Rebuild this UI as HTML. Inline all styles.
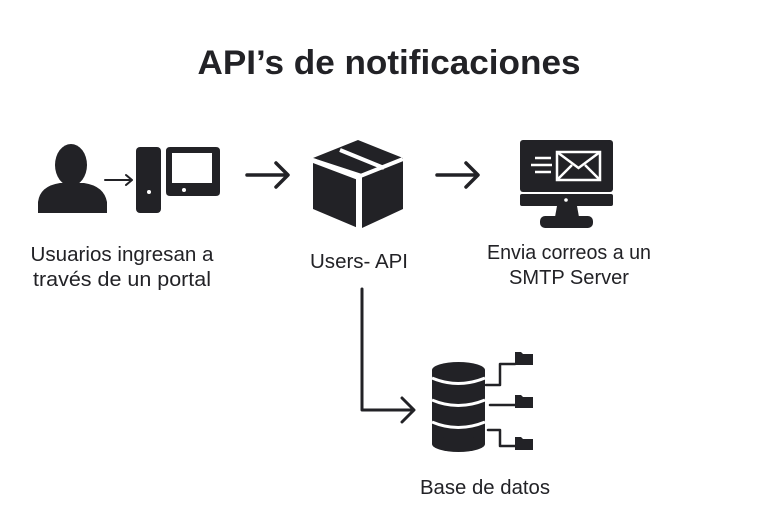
<!DOCTYPE html>
<html><head><meta charset="utf-8"><style>
html,body{margin:0;padding:0;background:#fff;}
svg{display:block;}
text{font-family:"Liberation Sans",sans-serif;fill:#222226;}
</style></head><body>
<svg width="768" height="512" viewBox="0 0 768 512" xmlns="http://www.w3.org/2000/svg">
<rect width="768" height="512" fill="#fff"/>
<text x="389" y="74" font-size="34" font-weight="bold" text-anchor="middle" textLength="383" lengthAdjust="spacingAndGlyphs">API’s de notificaciones</text>
<g fill="#222226" stroke="none">
 <ellipse cx="71" cy="165" rx="16" ry="21"/>
 <path d="M38 213 L38 202 Q40 186 60 183 L84 183 Q104 186 107 202 L107 213 Z"/>
 <rect x="136" y="147" width="25" height="66" rx="4"/>
 <path d="M170 147 H216 Q220 147 220 151 V192 Q220 196 216 196 H170 Q166 196 166 192 V151 Q166 147 170 147 Z M172 153 V183 H212 V153 Z" fill-rule="evenodd"/>
 <path d="M358 140 L403 158 L403 209 L362 228 L362 174 L313 158 Z"/>
 <path d="M313 163 L358 180 L358 228 L313 209 Z"/>
 <rect x="520" y="140" width="93" height="52" rx="3"/>
 <rect x="520" y="194" width="93" height="12" rx="2"/>
 <path d="M557 206 H577 L579 217 H555 Z"/>
 <rect x="540" y="216" width="53" height="12" rx="5"/>
 <rect x="432" y="370" width="53" height="74"/>
 <ellipse cx="458.5" cy="370" rx="26.5" ry="8"/>
 <ellipse cx="458.5" cy="444" rx="26.5" ry="8"/>
 <path d="M515 352 h6 l2 2 h10 v11 h-18 Z"/>
 <path d="M515 395 h6 l2 2 h10 v11 h-18 Z"/>
 <path d="M515 437 h6 l2 2 h10 v11 h-18 Z"/>
</g>
<g fill="#fff" stroke="none">
 <circle cx="149" cy="192" r="2"/>
 <circle cx="184" cy="190" r="2"/>
 <circle cx="566" cy="200" r="1.8"/>
</g>
<g stroke="#fff" stroke-width="4" fill="none">
 <path d="M313 160 L358 177 L403 159"/>
 <path d="M358 177 V228"/>
 <path d="M340 150 L384 168"/>
</g>
<g stroke="#fff" stroke-width="2.5" fill="none">
 <rect x="557" y="152" width="43" height="28"/>
 <path d="M557 152 L578.5 168 L600 152"/>
 <path d="M557 180 L572 165 M600 180 L585 165"/>
 <path d="M535 158 H551 M531 165 H552 M535 172 H551"/>
</g>
<g stroke="#fff" stroke-width="3" fill="none">
 <path d="M432 378 Q458 389 485 378"/>
 <path d="M432 400 Q458 411 485 400"/>
 <path d="M432 422 Q458 433 485 422"/>
</g>
<g stroke="#222226" fill="none" stroke-linecap="round" stroke-linejoin="round">
 <path d="M105 180 H131 M126 175 L132 180 L126 185" stroke-width="2"/>
 <path d="M247 175 H286 M276 163 L288 175 L276 187" stroke-width="3.5"/>
 <path d="M437 175 H476 M466 163 L478 175 L466 187" stroke-width="3.5"/>
 <path d="M362 289 V410 H412 M402 398 L414 410 L402 422" stroke-width="3"/>
 <path d="M486 385 H500 V364 H515" stroke-width="2.5"/>
 <path d="M490 405 H515" stroke-width="2.5"/>
 <path d="M488 430 H500 V446 H515" stroke-width="2.5"/>
</g>
<g font-size="20" text-anchor="middle">
 <text x="122" y="261" textLength="183" lengthAdjust="spacingAndGlyphs">Usuarios ingresan a</text>
 <text x="122" y="286" textLength="178" lengthAdjust="spacingAndGlyphs">través de un portal</text>
 <text x="359" y="268" textLength="98" lengthAdjust="spacingAndGlyphs">Users- API</text>
 <text x="569" y="259" textLength="164" lengthAdjust="spacingAndGlyphs">Envia correos a un</text>
 <text x="569" y="284" textLength="120" lengthAdjust="spacingAndGlyphs">SMTP Server</text>
 <text x="485" y="494" textLength="130" lengthAdjust="spacingAndGlyphs">Base de datos</text>
</g>
</svg>
</body></html>
